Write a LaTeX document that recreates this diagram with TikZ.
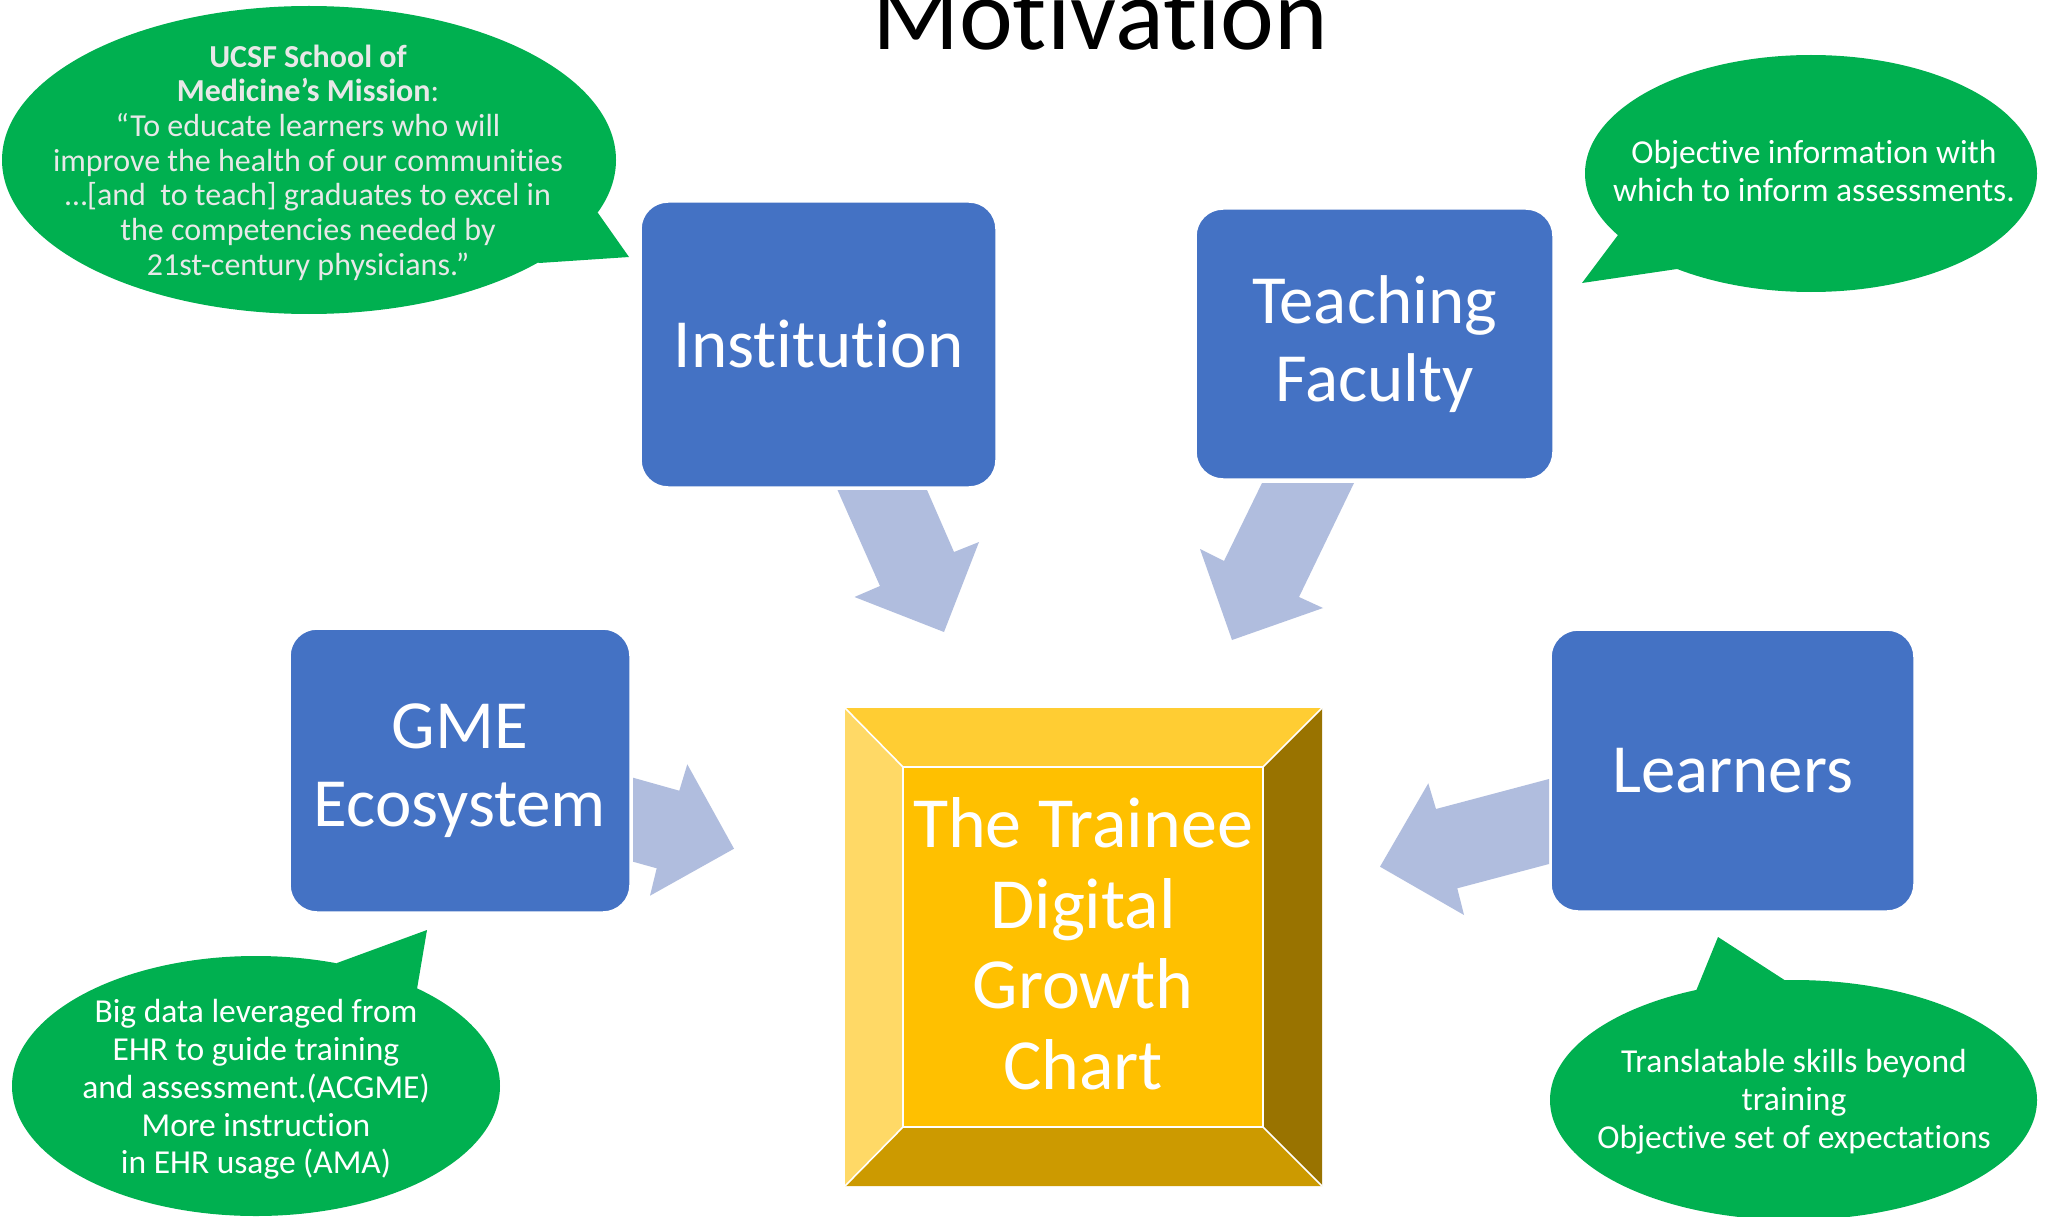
\documentclass[tikz,border=0pt]{standalone}
\usepackage{fontspec}
\setmainfont{Carlito}[Ligatures={NoCommon}]
\definecolor{boxblue}{RGB}{68,114,196}
\definecolor{arrowblue}{RGB}{176,189,222}
\definecolor{bubblegreen}{RGB}{0,176,80}
\definecolor{bubbleink}{RGB}{232,232,232}
\definecolor{bevtop}{RGB}{255,205,51}
\definecolor{bevleft}{RGB}{255,217,102}
\definecolor{bevright}{RGB}{153,115,0}
\definecolor{bevbottom}{RGB}{204,154,0}
\definecolor{bevface}{RGB}{255,192,0}
\begin{document}
\begin{tikzpicture}[x=1pt,y=-1pt,
  boxnode/.style={fill=boxblue, draw=white, line width=1.5pt, rounded corners=27pt,
    text=white, align=center, font=\fontsize{69}{78}\selectfont},
  blockarrow/.style={fill=arrowblue},
  bubble/.style={fill=bubblegreen},
  bubbletext/.style={text=white, align=center, inner sep=0pt, font=\fontsize{33.5}{38}\selectfont},
  facetline/.style={draw=white, line width=1.6pt},
  charttext/.style={text=white, align=center, inner sep=0pt, font=\fontsize{72}{80.5}\selectfont},
]
% canvas
\fill[white] (0,0) rectangle (2046,1217);
\useasboundingbox (0,0) rectangle (2046,1217);

% title
\node[anchor=base, inner sep=0pt, font=\fontsize{102}{120}\selectfont] (title) at (1100,50) {Motivation};

% speech bubbles
\fill[bubble] (309,160) ellipse [x radius=307pt, y radius=154pt];
\fill[bubble] (598,213) -- (629,257) -- (539,263) -- (450,200) -- cycle;
\node[bubbletext, text=bubbleink, font=\fontsize{32}{34.7}\selectfont] (mission) at (308,162.5)
  {\textbf{UCSF School of}\\\textbf{Medicine’s Mission}:\\“To educate learners who will\\improve the health of our communities\\…[and\ \ to teach] graduates to excel in\\the competencies needed by\\21st-century physicians.”};

\fill[bubble] (1811,173.5) ellipse [x radius=226pt, y radius=118.5pt];
\fill[bubble] (1618,235) -- (1582,283) -- (1677,269) -- (1700,200) -- cycle;
\node[bubbletext] (objective) at (1814,171.5)
  {Objective information with\\which to inform assessments.};

\fill[bubble] (256,1086) ellipse [x radius=244pt, y radius=130pt];
\fill[bubble] (337,963) -- (427,930) -- (417,989) -- (330,1020) -- cycle;
\node[bubbletext, font=\fontsize{33.5}{37.75}\selectfont] (bigdata) at (256,1089.5)
  {Big data leveraged from\\EHR to guide training\\and assessment.(ACGME)\\More instruction\\in EHR usage (AMA)};

\fill[bubble] (1793.5,1100) ellipse [x radius=243.5pt, y radius=120pt];
\fill[bubble] (1696,991) -- (1718,937) -- (1786,981) -- (1740,1030) -- cycle;
\node[bubbletext] (skills) at (1794,1102)
  {Translatable skills beyond\\training\\Objective set of expectations};

% block arrows pointing at the chart
\fill[blockarrow] (837.5,490) -- (927,490) -- (954,552) -- (979,542) -- (944,632)
  -- (854.5,597) -- (880,586) -- cycle;
\fill[blockarrow] (1262,483) -- (1354,483) -- (1299,597) -- (1323,608) -- (1232,640)
  -- (1200,549) -- (1224,561) -- cycle;
\fill[blockarrow] (633,777.7) -- (679.3,790.7) -- (687.3,764.3) -- (734,848.7)
  -- (650,895.7) -- (656.7,868.3) -- (633,861.7) -- cycle;
\fill[blockarrow] (1549,779) -- (1436,809) -- (1428.3,783.3) -- (1380,866.7)
  -- (1464,915) -- (1457.3,888.3) -- (1549,864) -- cycle;

% stakeholder boxes
\node[boxnode, minimum width=355pt, minimum height=285pt] (inst) at (818.5,344.5) {Institution};
\node[boxnode, minimum width=357pt, minimum height=270pt] (fac) at (1374.5,344) {Teaching\\Faculty};
\node[boxnode, minimum width=340pt, minimum height=283pt] (gme) at (460,770.5) {GME\\Ecosystem};
\node[boxnode, minimum width=363pt, minimum height=281pt] (learn) at (1732.5,770.5) {Learners};

% bevelled centre square
\coordinate (o1) at (845,708);  \coordinate (o2) at (1322,708);
\coordinate (o3) at (1322,1186); \coordinate (o4) at (845,1186);
\coordinate (i1) at (903,767);  \coordinate (i2) at (1263,767);
\coordinate (i3) at (1263,1127); \coordinate (i4) at (903,1127);
\fill[bevtop] (o1) -- (o2) -- (i2) -- (i1) -- cycle;
\fill[bevright] (o2) -- (o3) -- (i3) -- (i2) -- cycle;
\fill[bevbottom] (o3) -- (o4) -- (i4) -- (i3) -- cycle;
\fill[bevleft] (o4) -- (o1) -- (i1) -- (i4) -- cycle;
\fill[bevface] (i1) rectangle (i3);
\draw[facetline] (i1) rectangle (i3);
\draw[facetline] (o1) -- (i1) (o2) -- (i2) (o3) -- (i3) (o4) -- (i4);
\node[charttext] (chart) at (1083,944) {The Trainee\\Digital\\Growth\\Chart};
\end{tikzpicture}
\end{document}
